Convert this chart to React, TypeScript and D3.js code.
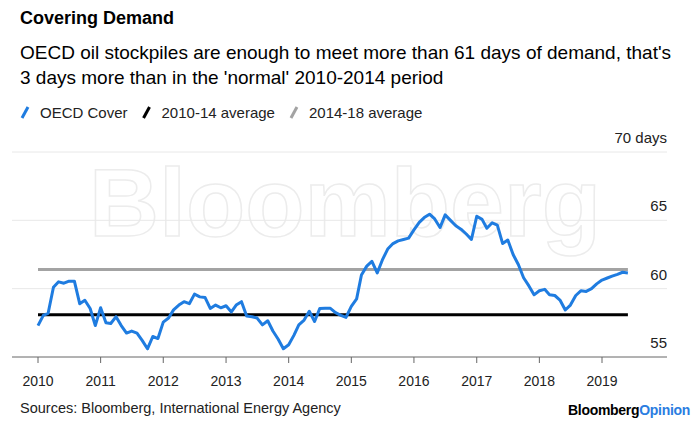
import React, { useEffect, useRef } from "react";
import * as d3 from "d3";

// OECD days of demand cover, monthly from Jan 2010
const oecdCover: number[] = [
  57.3, 58.05, 58.2, 60.1, 60.5, 60.4, 60.55, 60.55, 58.9, 59.15, 58.55, 57.3,
  58.6, 57.5, 57.45, 57.95, 57.3, 56.75, 56.9, 56.75, 56.2, 55.6, 56.5, 56.35,
  57.55, 57.85, 58.45, 58.8, 59.05, 58.9, 59.6, 59.4, 59.35, 58.55, 58.8, 58.6,
  58.75, 58.3, 58.8, 59.05, 58.0, 57.95, 57.85, 57.35, 57.65, 56.9, 56.3, 55.6,
  55.9, 56.6, 57.35, 57.7, 58.35, 57.6, 58.55, 58.56, 58.56, 58.25, 58.05, 57.9,
  58.7, 59.25, 61.0, 61.65, 62.0, 61.15, 62.1, 62.9, 63.3, 63.5, 63.6, 63.7,
  64.3, 64.85, 65.2, 65.45, 65.1, 64.47, 65.4, 65.0, 64.6, 64.35, 64.0, 63.6,
  65.3, 65.07, 64.42, 64.82, 64.65, 63.3, 63.56, 62.5, 61.75, 60.8, 60.2, 59.55,
  59.85, 59.95, 59.55, 59.5, 59.17, 58.44, 58.8, 59.5, 59.85, 59.8, 60.0, 60.35,
  60.63, 60.78, 60.92, 61.05, 61.2, 61.15,
];
const startMonth = new Date(2010, 0, 1);

const avg2010to14 = 58.1;
const avg2014to18 = 61.4;

const yTicks = [55, 60, 65, 70];
const yearTicks = [2010, 2011, 2012, 2013, 2014, 2015, 2016, 2017, 2018, 2019];

const legendItems = [
  { label: "OECD Cover", color: "#1f7ce0" },
  { label: "2010-14 average", color: "#000000" },
  { label: "2014-18 average", color: "#a3a3a3" },
];

const FONT = "'Liberation Sans', Arial, Helvetica, sans-serif";

const App: React.FC = () => {
  const svgRef = useRef<SVGSVGElement | null>(null);

  useEffect(() => {
    document.body.style.margin = "0";
    const width = 696;
    const height = 424;
    const svg = d3.select(svgRef.current).attr("width", width).attr("height", height);
    svg.selectAll("*").remove();

    const series = oecdCover.map((v, i) => ({ date: d3.timeMonth.offset(startMonth, i), value: v }));
    const lastDate = series[series.length - 1].date;

    const x = d3
      .scaleTime()
      .domain([new Date(2010, 0, 1), new Date(2019, 0, 1)])
      .range([38, 602]);
    const y = d3.scaleLinear().domain([55, 70]).range([357, 152]);

    svg.append("rect").attr("width", width).attr("height", height).attr("fill", "#fff");

    // title block
    svg
      .append("text")
      .attr("x", 20)
      .attr("y", 24)
      .attr("font-family", FONT)
      .attr("font-weight", "bold")
      .attr("font-size", 18)
      .attr("fill", "#000")
      .text("Covering Demand");
    const subtitle = [
      "OECD oil stockpiles are enough to meet more than 61 days of demand, that's",
      "3 days more than in the 'normal' 2010-2014 period",
    ];
    subtitle.forEach((line, i) => {
      svg
        .append("text")
        .attr("x", 20)
        .attr("y", 59 + i * 25)
        .attr("font-family", FONT)
        .attr("font-size", 19)
        .attr("fill", "#000")
        .text(line);
    });

    // legend
    let lx = 22;
    legendItems.forEach((item) => {
      svg
        .append("line")
        .attr("x1", lx)
        .attr("y1", 118)
        .attr("x2", lx + 6)
        .attr("y2", 107)
        .attr("stroke", item.color)
        .attr("stroke-width", 3);
      const t = svg
        .append("text")
        .attr("x", lx + 18)
        .attr("y", 118)
        .attr("font-family", FONT)
        .attr("font-size", 15)
        .attr("fill", "#222")
        .text(item.label);
      const w = (t.node() as SVGTextElement).getComputedTextLength();
      lx += 18 + w + 16;
    });

    // watermark
    svg
      .append("text")
      .attr("x", 345)
      .attr("y", 236)
      .attr("text-anchor", "middle")
      .attr("font-family", FONT)
      .attr("font-weight", "bold")
      .attr("font-size", 97)
      .attr("fill", "none")
      .attr("stroke", "#ececec")
      .attr("stroke-width", 1.5)
      .text("Bloomberg");

    // gridlines + y labels
    yTicks.forEach((t) => {
      if (t !== 55) {
        svg
          .append("line")
          .attr("x1", 12)
          .attr("x2", 667)
          .attr("y1", y(t))
          .attr("y2", y(t))
          .attr("stroke", "#e8e8e8")
          .attr("stroke-width", 1);
      }
      svg
        .append("text")
        .attr("x", 667)
        .attr("y", y(t) - 9)
        .attr("text-anchor", "end")
        .attr("font-family", FONT)
        .attr("font-size", 15)
        .attr("fill", "#222")
        .text(t === 70 ? "70 days" : String(t));
    });

    // x axis
    svg
      .append("line")
      .attr("x1", 12)
      .attr("x2", 667)
      .attr("y1", y(55))
      .attr("y2", y(55))
      .attr("stroke", "#666")
      .attr("stroke-width", 1);
    yearTicks.forEach((yr) => {
      const px = x(new Date(yr, 0, 1));
      svg
        .append("line")
        .attr("x1", px)
        .attr("x2", px)
        .attr("y1", y(55))
        .attr("y2", y(55) + 6)
        .attr("stroke", "#666");
      svg
        .append("text")
        .attr("x", px)
        .attr("y", 386)
        .attr("text-anchor", "middle")
        .attr("font-family", FONT)
        .attr("font-size", 14)
        .attr("fill", "#222")
        .text(String(yr));
    });

    // average lines
    [
      { v: avg2014to18, color: "#a3a3a3" },
      { v: avg2010to14, color: "#000" },
    ].forEach((a) => {
      svg
        .append("line")
        .attr("x1", x(startMonth))
        .attr("x2", x(lastDate))
        .attr("y1", y(a.v))
        .attr("y2", y(a.v))
        .attr("stroke", a.color)
        .attr("stroke-width", 3);
    });

    // OECD cover line
    const line = d3
      .line<{ date: Date; value: number }>()
      .x((d) => x(d.date))
      .y((d) => y(d.value));
    svg
      .append("path")
      .datum(series)
      .attr("d", line)
      .attr("fill", "none")
      .attr("stroke", "#1f7ce0")
      .attr("stroke-width", 3)
      .attr("stroke-linejoin", "round");

    // footer
    svg
      .append("text")
      .attr("x", 20)
      .attr("y", 413)
      .attr("font-family", FONT)
      .attr("font-size", 14.5)
      .attr("fill", "#222")
      .text("Sources: Bloomberg, International Energy Agency");
    const brand = svg
      .append("text")
      .attr("x", 690)
      .attr("y", 415)
      .attr("text-anchor", "end")
      .attr("font-family", FONT)
      .attr("font-weight", "bold")
      .attr("font-size", 14)
      .attr("letter-spacing", -0.3);
    brand.append("tspan").attr("fill", "#000").text("Bloomberg");
    brand.append("tspan").attr("fill", "#2a7de1").text("Opinion");
  }, []);

  return <svg ref={svgRef} style={{ display: "block" }}></svg>;
};

export default App;
